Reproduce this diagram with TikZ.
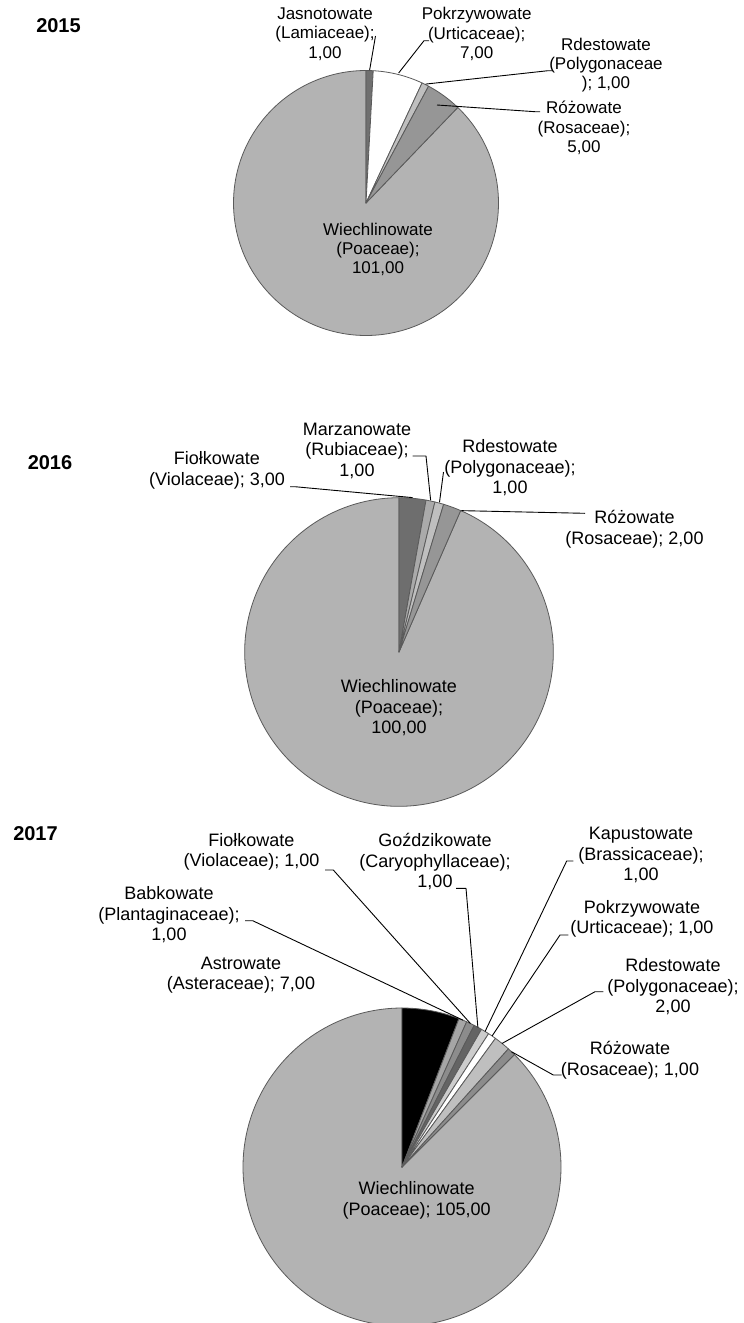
\documentclass[tikz,border=0pt]{standalone}
\usepackage{fontspec}
\setmainfont{Liberation Sans}
\definecolor{cEdge}{RGB}{90,90,90}
\definecolor{cW}{RGB}{179,179,179}
\definecolor{cRd}{RGB}{191,191,191}
\definecolor{cRo}{RGB}{150,150,150}
\definecolor{cJa}{RGB}{112,112,112}
\definecolor{cFi}{RGB}{110,110,110}
\definecolor{cMa}{RGB}{170,170,170}
\definecolor{cBa}{RGB}{166,166,166}
\definecolor{cFs}{RGB}{140,140,140}
\definecolor{cGo}{RGB}{100,100,100}
\definecolor{cKa}{RGB}{205,205,205}
\definecolor{cRs}{RGB}{140,140,140}
\begin{document}
\begin{tikzpicture}[x=1pt,y=-1pt,
  lbl/.style={align=center, inner sep=0pt, font=\fontsize{18}{20.5}\selectfont},
  lblA/.style={align=center, inner sep=0pt, font=\fontsize{17}{19.3}\selectfont},
  yr/.style={inner sep=0pt, font=\fontsize{20}{24}\selectfont\bfseries},
  slice/.style={draw=cEdge, line width=0.8pt, line join=round},
  lead/.style={draw=black, line width=0.9pt, line join=round}]
\path[use as bounding box, fill=white] (0,0) rectangle (744,1323);

% ---------------- 2015 ----------------
\node[yr] (y15) at (58.5,26) {2015};
\begin{scope}[shift={(366,203)}, yscale=-1]
  \filldraw[slice, fill=cW] (0,0) -- (46.174:132.5) arc[start angle=46.174, end angle=-270, radius=132.5] -- cycle;
  \filldraw[slice, fill=cJa] (0,0) -- (90:132.5) arc[start angle=90, end angle=86.870, radius=132.5] -- cycle;
  \filldraw[slice, fill=white] (0,0) -- (86.870:132.5) arc[start angle=86.870, end angle=64.957, radius=132.5] -- cycle;
  \filldraw[slice, fill=cRd] (0,0) -- (64.957:132.5) arc[start angle=64.957, end angle=61.826, radius=132.5] -- cycle;
  \filldraw[slice, fill=cRo] (0,0) -- (61.826:132.5) arc[start angle=61.826, end angle=46.174, radius=132.5] -- cycle;
  \coordinate (p15J) at (88.43:133);
  \coordinate (p15P) at (75.91:134);
  \coordinate (p15R) at (63.39:133);
\end{scope}
\coordinate (p15Ro) at (437,105);
\node[lblA] (t15J) at (325,34) {Jasnotowate\\(Lamiaceae);\\1,00};
\node[lblA] (t15P) at (476.7,34) {Pokrzywowate\\(Urticaceae);\\7,00};
\node[lblA] (t15R) at (606,65) {Rdestowate\\(Polygonaceae\\); 1,00};
\node[lblA] (t15Ro) at (584,128) {Różowate\\(Rosaceae);\\5,00};
\node[lblA] (t15W) at (378,249.5) {Wiechlinowate\\(Poaceae);\\101,00};
\coordinate (s15J) at (375.5,36);
\coordinate (s15P1) at (429,40.7);
\coordinate (s15P2) at (424,40.7);
\coordinate (s15R1) at (553,70.7);
\coordinate (s15R2) at (548,70.7);
\coordinate (s15Ro1) at (540,111.7);
\coordinate (s15Ro2) at (535,111.7);
\draw[lead] (s15J) -- (p15J);
\draw[lead] (s15P1) -- (s15P2) -- (p15P);
\draw[lead] (s15R1) -- (s15R2) -- (p15R);
\draw[lead] (s15Ro1) -- (s15Ro2) -- (p15Ro);

% ---------------- 2016 ----------------
\node[yr] (y16) at (50,463) {2016};
\begin{scope}[shift={(399,652)}, yscale=-1]
  \filldraw[slice, fill=cW] (0,0) -- (66.449:154.3) arc[start angle=66.449, end angle=-270, radius=154.3] -- cycle;
  \filldraw[slice, fill=cFi] (0,0) -- (90:154.3) arc[start angle=90, end angle=79.907, radius=154.3] -- cycle;
  \filldraw[slice, fill=cMa] (0,0) -- (79.907:154.3) arc[start angle=79.907, end angle=76.542, radius=154.3] -- cycle;
  \filldraw[slice, fill=cRd] (0,0) -- (76.542:154.3) arc[start angle=76.542, end angle=73.178, radius=154.3] -- cycle;
  \filldraw[slice, fill=cRo] (0,0) -- (73.178:154.3) arc[start angle=73.178, end angle=66.449, radius=154.3] -- cycle;
  \coordinate (p16F) at (84.95:155);
  \coordinate (p16M) at (78.22:155);
  \coordinate (p16R) at (74.86:155);
  \coordinate (p16Ro) at (66.2:154.5);
\end{scope}
\node[lbl] (t16F) at (217,470.5) {Fiołkowate\\(Violaceae); 3,00};
\node[lbl] (t16M) at (357,450.5) {Marzanowate\\(Rubiaceae);\\1,00};
\node[lbl] (t16R) at (510,468) {Rdestowate\\(Polygonaceae);\\1,00};
\node[lbl] (t16Ro) at (634.5,529) {Różowate\\(Rosaceae); 2,00};
\node[lbl] (t16W) at (399,707.7) {Wiechlinowate\\(Poaceae);\\100,00};
\coordinate (s16F1) at (290,486.7);
\coordinate (s16F2) at (295,486.7);
\coordinate (s16M1) at (412.7,456);
\coordinate (s16M2) at (426,456);
\coordinate (s16R) at (443.5,472);
\coordinate (s16Ro) at (585,513.3);
\draw[lead] (s16F1) -- (s16F2) -- (p16F);
\draw[lead] (s16M1) -- (s16M2) -- (p16M);
\draw[lead] (s16R) -- (p16R);
\draw[lead] (s16Ro) -- (p16Ro);

% ---------------- 2017 ----------------
\node[yr] (y17) at (35.5,833.3) {2017};
\begin{scope}[shift={(402,1167)}, yscale=-1]
  \filldraw[slice, fill=cW] (0,0) -- (45:159) arc[start angle=45, end angle=-270, radius=159] -- cycle;
  \filldraw[slice, fill=black] (0,0) -- (90:159) arc[start angle=90, end angle=69, radius=159] -- cycle;
  \filldraw[slice, fill=cBa] (0,0) -- (69:159) arc[start angle=69, end angle=66, radius=159] -- cycle;
  \filldraw[slice, fill=cFs] (0,0) -- (66:159) arc[start angle=66, end angle=63, radius=159] -- cycle;
  \filldraw[slice, fill=cGo] (0,0) -- (63:159) arc[start angle=63, end angle=60, radius=159] -- cycle;
  \filldraw[slice, fill=cKa] (0,0) -- (60:159) arc[start angle=60, end angle=57, radius=159] -- cycle;
  \filldraw[slice, fill=white] (0,0) -- (57:159) arc[start angle=57, end angle=54, radius=159] -- cycle;
  \filldraw[slice, fill=cRd] (0,0) -- (54:159) arc[start angle=54, end angle=48, radius=159] -- cycle;
  \filldraw[slice, fill=cRs] (0,0) -- (48:159) arc[start angle=48, end angle=45, radius=159] -- cycle;
  \coordinate (p17B) at (67.5:159);
  \coordinate (p17F) at (64.5:159);
  \coordinate (p17G) at (61.5:159);
  \coordinate (p17K) at (58.5:159);
  \coordinate (p17P) at (55.5:159);
  \coordinate (p17R) at (51:159);
  \coordinate (p17Ro) at (46.5:159);
\end{scope}
\node[lbl] (t17F) at (251.5,852) {Fiołkowate\\(Violaceae); 1,00};
\node[lbl] (t17B) at (169,915) {Babkowate\\(Plantaginaceae);\\1,00};
\node[lbl] (t17A) at (241,975) {Astrowate\\(Asteraceae); 7,00};
\node[lbl] (t17G) at (435,861.7) {Goździkowate\\(Caryophyllaceae);\\1,00};
\node[lbl] (t17K) at (641,855) {Kapustowate\\(Brassicaceae);\\1,00};
\node[lbl] (t17P) at (642,919) {Pokrzywowate\\(Urticaceae); 1,00};
\node[lbl] (t17R) at (673,986.7) {Rdestowate\\(Polygonaceae);\\2,00};
\node[lbl] (t17Ro) at (630,1060) {Różowate\\(Rosaceae); 1,00};
\node[lbl] (t17W) at (416.7,1200.5) {Wiechlinowate\\(Poaceae); 105,00};
\coordinate (s17F1) at (325,870);
\coordinate (s17F2) at (333.3,870);
\coordinate (s17B1) at (245,920.7);
\coordinate (s17B2) at (252.7,920.7);
\coordinate (s17G1) at (456,888.3);
\coordinate (s17G2) at (466,888.3);
\coordinate (s17K1) at (573.3,861);
\coordinate (s17K2) at (566.7,861);
\coordinate (s17P1) at (568.3,935);
\coordinate (s17P2) at (560,935);
\coordinate (s17R1) at (603.3,991.7);
\coordinate (s17R2) at (595,991.7);
\coordinate (s17Ro1) at (561.7,1075);
\coordinate (s17Ro2) at (553.3,1075);
\draw[lead] (s17F1) -- (s17F2) -- (p17F);
\draw[lead] (s17B1) -- (s17B2) -- (p17B);
\draw[lead] (s17G1) -- (s17G2) -- (p17G);
\draw[lead] (s17K1) -- (s17K2) -- (p17K);
\draw[lead] (s17P1) -- (s17P2) -- (p17P);
\draw[lead] (s17R1) -- (s17R2) -- (p17R);
\draw[lead] (s17Ro1) -- (s17Ro2) -- (p17Ro);
\end{tikzpicture}
\end{document}
